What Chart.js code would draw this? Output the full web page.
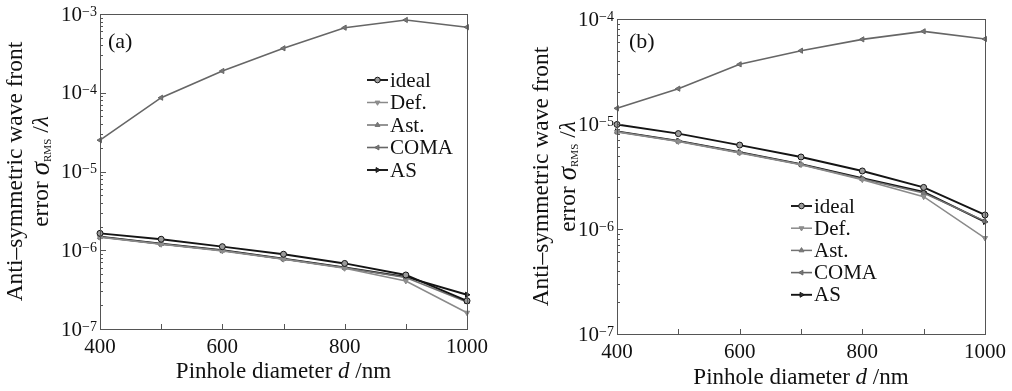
<!DOCTYPE html>
<html>
<head>
<meta charset="utf-8">
<script src="https://cdn.jsdelivr.net/npm/chart.js@4.4.0/dist/chart.umd.min.js"></script>
<style>
  html, body { margin: 0; padding: 0; background: #ffffff; }
  #wrap { position: relative; width: 1012px; height: 391px; }
  canvas { position: absolute; top: 0; }
  #chartA { left: 0; }
  #chartB { left: 506px; }
</style>
</head>
<body>
<div id="wrap">
  <canvas id="chartA" width="506" height="391"></canvas>
  <canvas id="chartB" width="506" height="391"></canvas>
</div>
<script>
// Pinhole diameters (nm) and the tick labels shown on the x axis
const diameters = [400, 500, 600, 700, 800, 900, 1000];
const xTickLabels = [400, 600, 800, 1000];
const seriesNames = ['ideal', 'Def.', 'Ast.', 'COMA', 'AS'];

// Panel (a) values
const aIdeal = [1.64e-6, 1.38e-6, 1.11e-6, 8.9e-7, 6.8e-7, 4.85e-7, 2.28e-7];
const aDef = [1.46e-6, 1.19e-6, 9.8e-7, 7.7e-7, 5.9e-7, 4.07e-7, 1.61e-7];
const aAst = [1.47e-6, 1.2e-6, 9.9e-7, 7.75e-7, 6.0e-7, 4.5e-7, 2.2e-7];
const aComa = [2.5e-5, 8.65e-5, 1.89e-4, 3.67e-4, 6.7e-4, 8.4e-4, 6.8e-4];
const aAS = [1.49e-6, 1.21e-6, 1.0e-6, 7.8e-7, 6.05e-7, 4.6e-7, 2.72e-7];
const aExponents = [-7, -6, -5, -4, -3];

// Panel (b) values
const bIdeal = [9.9e-6, 8.1e-6, 6.3e-6, 4.85e-6, 3.57e-6, 2.49e-6, 1.36e-6];
const bDef = [8.4e-6, 6.8e-6, 5.3e-6, 4.1e-6, 2.95e-6, 2.03e-6, 8.2e-7];
const bAst = [8.45e-6, 6.85e-6, 5.35e-6, 4.12e-6, 3.0e-6, 2.2e-6, 1.19e-6];
const bComa = [1.41e-5, 2.17e-5, 3.7e-5, 4.99e-5, 6.4e-5, 7.63e-5, 6.45e-5];
const bAS = [8.5e-6, 6.9e-6, 5.38e-6, 4.15e-6, 3.05e-6, 2.26e-6, 1.17e-6];
const bExponents = [-7, -6, -5, -4];

// Styles per series (same order as seriesNames)
const seriesColors = ['#141414', '#8a8a8a', '#727272', '#666666', '#141414'];
const seriesFills = ['#9a9a9a', '#8f8f8f', '#7a7a7a', '#777777', '#333333'];
const seriesPointStyles = ['circle', 'triangle', 'triangle', 'triangle', 'triangle'];
const seriesRotations = [0, 180, 0, -90, 90];
const seriesWidths = [1.9, 1.5, 1.5, 1.6, 1.9];

const serif = '"Liberation Serif", "Times New Roman", serif';
const ink = '#111111';

// draw a run of text pieces (different fonts / offsets) centred at 0,0
function drawPieces(ctx, pieces) {
    let total = 0;
    for (const p of pieces) {
        ctx.font = p.font;
        p.w = ctx.measureText(p.text).width;
        total += p.w;
    }
    let x = -total / 2;
    for (const p of pieces) {
        ctx.font = p.font;
        ctx.fillText(p.text, x, p.dy || 0);
        x += p.w;
    }
}

// Custom drawing: frame, inward ticks, tick labels, legend, titles
const panelDecor = {
    id: 'panelDecor',
    afterDraw(chart) {
        const p = chart.options.plugins.panelDecor;
        const ctx = chart.ctx;
        const area = chart.chartArea;
        const xs = chart.scales.x;
        const ys = chart.scales.y;
        ctx.save();

        // frame
        ctx.strokeStyle = '#555555';
        ctx.lineWidth = 1;
        ctx.strokeRect(area.left + 0.5, area.top + 0.5, area.right - area.left, area.bottom - area.top);

        // x ticks pointing inward
        ctx.beginPath();
        for (const v of diameters) {
            const px = Math.round(xs.getPixelForValue(v)) + 0.5;
            ctx.moveTo(px, area.bottom);
            ctx.lineTo(px, area.bottom - 5);
        }
        // y minor / major ticks on the left
        const exps = p.exponents;
        for (let k = exps[0]; k < exps[exps.length - 1]; k++) {
            for (let m = 1; m <= 9; m++) {
                const py = Math.round(ys.getPixelForValue(m * Math.pow(10, k))) + 0.5;
                ctx.moveTo(area.left, py);
                ctx.lineTo(area.left + (m === 1 ? 6 : 3), py);
            }
        }
        ctx.stroke();

        ctx.fillStyle = ink;
        // x tick labels
        ctx.font = '21px ' + serif;
        ctx.textAlign = 'center';
        ctx.textBaseline = 'middle';
        for (const v of xTickLabels) {
            ctx.fillText(String(v), xs.getPixelForValue(v), p.xLabelY);
        }

        // y tick labels 10^k
        for (const k of exps) {
            const py = ys.getPixelForValue(Math.pow(10, k));
            const sup = '\u2212' + Math.abs(k);
            ctx.font = '14px ' + serif;
            const sw = ctx.measureText(sup).width;
            const right = area.left - 3;
            ctx.textAlign = 'left';
            ctx.textBaseline = 'top';
            ctx.fillText(sup, right - sw, py - 9);
            ctx.font = '21px ' + serif;
            ctx.textAlign = 'right';
            ctx.textBaseline = 'middle';
            ctx.fillText('10', right - sw, py + 1);
        }

        // x axis title
        ctx.textAlign = 'left';
        ctx.textBaseline = 'middle';
        ctx.save();
        ctx.translate((area.left + area.right) / 2, p.xTitleY);
        drawPieces(ctx, [
            { text: 'Pinhole diameter ', font: '23px ' + serif },
            { text: 'd', font: 'italic 23px ' + serif },
            { text: ' /nm', font: '23px ' + serif }
        ]);
        ctx.restore();

        // y axis title, two rotated lines
        const cy = (area.top + area.bottom) / 2;
        ctx.save();
        ctx.translate(p.yTitleX1, cy);
        ctx.rotate(-Math.PI / 2);
        drawPieces(ctx, [{ text: 'Anti\u2013symmetric wave front', font: '23.5px ' + serif }]);
        ctx.restore();
        ctx.save();
        ctx.translate(p.yTitleX2, cy);
        ctx.rotate(-Math.PI / 2);
        drawPieces(ctx, [
            { text: 'error ', font: '23.5px ' + serif },
            { text: '\u03c3', font: 'italic 27px ' + serif },
            { text: 'RMS', font: '11px ' + serif, dy: 6 },
            { text: ' /', font: '23.5px ' + serif },
            { text: '\u03bb', font: 'italic 23.5px ' + serif }
        ]);
        ctx.restore();

        // panel label
        ctx.font = '22px ' + serif;
        ctx.textAlign = 'left';
        ctx.fillText(p.label, p.labelX, p.labelY);

        // legend
        chart.data.datasets.forEach((ds, i) => {
            const y = p.legendY + i * p.legendGap;
            const x0 = p.legendX;
            const len = 21;
            ctx.strokeStyle = ds.borderColor;
            ctx.lineWidth = ds.borderWidth;
            ctx.beginPath();
            ctx.moveTo(x0, y);
            ctx.lineTo(x0 + len, y);
            ctx.stroke();
            ctx.fillStyle = ds.pointBackgroundColor;
            ctx.strokeStyle = ds.borderColor;
            ctx.lineWidth = 1;
            Chart.helpers.drawPoint(ctx, {
                pointStyle: ds.pointStyle,
                rotation: ds.pointRotation,
                radius: 2.8,
                borderWidth: 1
            }, x0 + len / 2, y);
            ctx.fillStyle = ink;
            ctx.font = '21px ' + serif;
            ctx.textBaseline = 'middle';
            ctx.fillText(ds.label, x0 + len + 2, y + 1);
        });

        ctx.restore();
    }
};

function buildDatasets(seriesValues) {
    return seriesValues.map((vals, i) => ({
        label: seriesNames[i],
        data: diameters.map((d, j) => ({ x: d, y: vals[j] })),
        borderColor: seriesColors[i],
        backgroundColor: seriesFills[i],
        pointBackgroundColor: seriesFills[i],
        pointBorderColor: seriesColors[i],
        pointStyle: seriesPointStyles[i],
        pointRotation: seriesRotations[i],
        pointRadius: 3,
        pointBorderWidth: 1,
        borderWidth: seriesWidths[i],
        tension: 0,
        clip: false
    }));
}

function makeChart(id, seriesValues, geo) {
    return new Chart(document.getElementById(id).getContext('2d'), {
        type: 'line',
        data: { datasets: buildDatasets(seriesValues) },
        plugins: [panelDecor],
        options: {
            responsive: false,
            animation: false,
            events: [],
            layout: { padding: { top: geo.top, right: geo.right, bottom: 0, left: 0 } },
            plugins: {
                legend: { display: false },
                tooltip: { enabled: false },
                panelDecor: geo
            },
            scales: {
                x: {
                    type: 'linear',
                    min: 400,
                    max: 1000,
                    grid: { display: false },
                    border: { display: false },
                    ticks: { display: false },
                    afterFit: (s) => { s.height = geo.xHeight; }
                },
                y: {
                    type: 'logarithmic',
                    min: Math.pow(10, geo.exponents[0]),
                    max: Math.pow(10, geo.exponents[geo.exponents.length - 1]),
                    grid: { display: false },
                    border: { display: false },
                    ticks: { display: false },
                    afterFit: (s) => { s.width = geo.yWidth; }
                }
            }
        }
    });
}

makeChart('chartA', [aIdeal, aDef, aAst, aComa, aAS], {
    exponents: aExponents,
    top: 14, right: 39, xHeight: 62, yWidth: 100,
    xLabelY: 347, xTitleY: 372,
    yTitleX1: 16, yTitleX2: 42,
    label: '(a)', labelX: 108, labelY: 42,
    legendX: 367, legendY: 80, legendGap: 22.5
});

makeChart('chartB', [bIdeal, bDef, bAst, bComa, bAS], {
    exponents: bExponents,
    top: 19, right: 27, xHeight: 57, yWidth: 111,
    xLabelY: 352, xTitleY: 378,
    yTitleX1: 36, yTitleX2: 63,
    label: '(b)', labelX: 123, labelY: 42,
    legendX: 285, legendY: 206, legendGap: 22.2
});
</script>
</body>
</html>
